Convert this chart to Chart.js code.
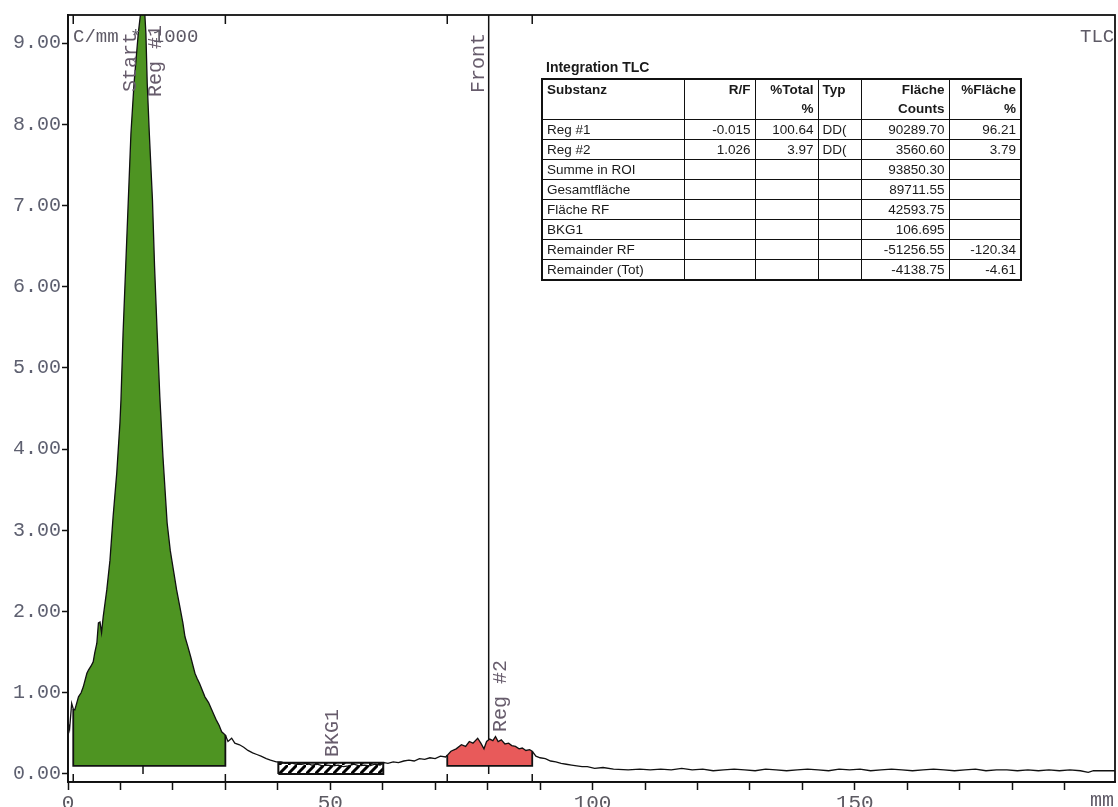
<!DOCTYPE html>
<html>
<head>
<meta charset="utf-8">
<script src="https://cdn.jsdelivr.net/npm/chart.js@4.4.0/dist/chart.umd.min.js"></script>
<style>
  body { margin: 0; background: #fff; }
  #wrap { position: relative; width: 1118px; height: 807px; overflow: hidden; }
  #title { position: absolute; left: 546px; top: 59px; font: bold 14px 'Liberation Sans', Arial, sans-serif; line-height: 16px; color: #1a1a1a; }
  #tbl { position: absolute; left: 541px; top: 78px; width: 479px; border-collapse: collapse; table-layout: fixed;
         font: 13.5px 'Liberation Sans', Arial, sans-serif; color: #1a1a1a; border: 2px solid #111; background: #fff; }
  #tbl td { border: 1px solid #111; padding: 0 4px; height: 19px; line-height: 19px; white-space: nowrap; overflow: hidden; vertical-align: middle; }
  #tbl tr.head td { height: 39px; vertical-align: top; font-weight: bold; }
  #tbl td.r { text-align: right; }
</style>
</head>
<body>
<div id="wrap">
  <canvas id="tlc" width="1118" height="807"></canvas>
  <div id="title">Integration TLC</div>
  <table id="tbl"></table>
</div>
<script>
// scan position (mm) and activity (C/mm * 1000)
var mm = [0.0, 0.3, 0.7, 1.0, 1.3, 2.0, 2.5, 2.9, 3.6, 3.9, 4.4, 4.8, 5.1, 5.5, 5.8, 6.1, 6.4, 6.7, 7.4, 8.0,
  8.6, 9.3, 9.9, 10.1, 10.5, 11.0, 11.5, 12.0, 12.6, 13.4, 13.9, 14.3, 14.85, 15.1, 15.5, 16.1, 16.5, 17.0, 17.5, 18.1,
  18.9, 19.5, 20.1, 20.7, 21.2, 21.9, 22.3, 22.8, 23.4, 24.2, 24.6, 25.1, 26.1, 26.8, 27.4, 28.3, 28.8, 29.3, 30.0, 30.5,
  31.2, 31.8, 32.7, 33.5, 34.3, 35.2, 36.0, 36.8, 37.8, 38.6, 39.7, 40.6, 41.5, 42.5, 43.5, 44.5, 45.5, 46.5, 47.5, 48.5,
  49.5, 50.5, 51.5, 52.5, 53.5, 54.5, 55.5, 56.5, 57.5, 58.5, 59.5, 60.3, 61.0, 62.0, 63.0, 64.0, 65.0, 66.0, 67.0, 68.0,
  69.0, 70.0, 71.0, 72.0, 72.3, 73.0, 74.0, 75.0, 75.8, 76.5, 77.2, 78.1, 78.7, 79.3, 79.8, 80.4, 81.0, 81.5, 82.0, 82.6,
  83.3, 84.0, 84.6, 85.3, 86.0, 86.6, 87.3, 88.0, 88.5, 89.2, 90.0, 91.0, 92.0, 93.0, 94.0, 95.0, 96.0, 97.0, 98.0, 99.0,
  100.4, 102, 104, 106.8, 109, 111, 113, 115, 117, 119, 121, 123, 125, 127, 129, 131, 133, 135, 137, 139,
  141, 143, 145, 147, 149, 151, 153, 155, 157, 159, 161, 163, 165, 167, 169, 171, 173, 175, 177, 179,
  181, 183, 185, 187, 189, 191, 193, 194.5, 195.5, 197, 199.6];
var counts = [0.64, 0.55, 0.87, 0.80, 0.79, 0.95, 1.00, 1.07, 1.24, 1.28, 1.33, 1.38, 1.49, 1.61, 1.86, 1.87, 1.74, 1.93, 2.27, 2.63,
  3.17, 3.71, 4.32, 4.61, 5.43, 6.25, 7.07, 7.89, 8.51, 9.12, 9.40, 9.75, 9.12, 8.51, 7.89, 7.07, 6.25, 5.43, 4.65, 3.91,
  3.09, 2.75, 2.51, 2.27, 2.10, 1.86, 1.69, 1.58, 1.44, 1.24, 1.18, 1.11, 0.95, 0.88, 0.79, 0.66, 0.60, 0.52, 0.48, 0.40,
  0.44, 0.38, 0.36, 0.33, 0.29, 0.26, 0.24, 0.22, 0.19, 0.17, 0.15, 0.15, 0.13, 0.14, 0.12, 0.12, 0.13, 0.11, 0.12, 0.10,
  0.11, 0.10, 0.11, 0.09, 0.10, 0.12, 0.10, 0.11, 0.10, 0.12, 0.11, 0.14, 0.13, 0.15, 0.14, 0.16, 0.17, 0.16, 0.19, 0.18,
  0.20, 0.19, 0.22, 0.21, 0.23, 0.28, 0.31, 0.36, 0.34, 0.40, 0.38, 0.44, 0.38, 0.31, 0.40, 0.43, 0.41, 0.46, 0.40, 0.42,
  0.37, 0.38, 0.35, 0.34, 0.31, 0.32, 0.29, 0.30, 0.28, 0.22, 0.20, 0.19, 0.16, 0.15, 0.13, 0.12, 0.11, 0.10, 0.09, 0.09,
  0.07, 0.08, 0.06, 0.05, 0.06, 0.05, 0.06, 0.05, 0.07, 0.05, 0.06, 0.04, 0.05, 0.06, 0.05, 0.04, 0.06, 0.05, 0.04, 0.05,
  0.06, 0.05, 0.04, 0.06, 0.05, 0.06, 0.04, 0.05, 0.06, 0.05, 0.04, 0.05, 0.06, 0.05, 0.04, 0.05, 0.06, 0.04, 0.05, 0.05,
  0.04, 0.05, 0.04, 0.05, 0.04, 0.05, 0.04, 0.02, 0.04, 0.04, 0.04];

var yTicks = [0, 1, 2, 3, 4, 5, 6, 7, 8, 9];
var xTicks = [0, 10, 20, 30, 40, 50, 60, 70, 80, 90, 100, 110, 120, 130, 140, 150, 160, 170, 180, 190];
var xLabels = [0, 50, 100, 150];

var regions = [[1.0, 30.0], [72.3, 88.5]];   // Reg #1, Reg #2
var baseline = 0.1;
var bkgRange = [40.1, 60.1];
var bkgLevel = 0.14;
var startAt = 14.3;
var frontAt = 80.2;
var labelTexts = ['Start', 'Reg #1', 'Front', 'Reg #2', 'BKG1'];
var labelAt = [startAt, startAt, frontAt, frontAt, 50.1];

var tableHead = [['Substanz', ''], ['R/F', ''], ['%Total', '%'], ['Typ', ''], ['Fläche', 'Counts'], ['%Fläche', '%']];
var tableRows = [
  ['Reg #1', '-0.015', '100.64', 'DD(', '90289.70', '96.21'],
  ['Reg #2', '1.026', '3.97', 'DD(', '3560.60', '3.79'],
  ['Summe in ROI', '', '', '', '93850.30', ''],
  ['Gesamtfläche', '', '', '', '89711.55', ''],
  ['Fläche RF', '', '', '', '42593.75', ''],
  ['BKG1', '', '', '', '106.695', ''],
  ['Remainder RF', '', '', '', '-51256.55', '-120.34'],
  ['Remainder (Tot)', '', '', '', '-4138.75', '-4.61']
];

// table
var colW = [142, 71, 63, 43, 88, 72];
var rightCol = [false, true, true, false, true, true];
var tbl = document.getElementById('tbl');
var html = '<colgroup>' + colW.map(function (w) { return '<col style="width:' + w + 'px">'; }).join('') + '</colgroup>';
html += '<tr class="head">' + tableHead.map(function (h, i) {
  return '<td class="' + (rightCol[i] ? 'r' : '') + '">' + h[0] + '<br>' + h[1] + '</td>';
}).join('') + '</tr>';
tableRows.forEach(function (row) {
  html += '<tr>' + row.map(function (c, i) { return '<td class="' + (rightCol[i] ? 'r' : '') + '">' + c + '</td>'; }).join('') + '</tr>';
});
tbl.innerHTML = html;

var trace = mm.map(function (x, i) { return { x: x, y: counts[i] }; });
function yAt(x) {
  for (var i = 0; i < trace.length; i++) if (trace[i].x === x) return trace[i].y;
  return baseline;
}
var regionColors = ['#4e9422', '#e85a5a'];

// hatch pattern for the background box
var pc = document.createElement('canvas');
pc.width = 9; pc.height = 9;
var pctx = pc.getContext('2d');
pctx.fillStyle = '#fff'; pctx.fillRect(0, 0, 9, 9);
pctx.strokeStyle = '#000'; pctx.lineWidth = 3;
pctx.beginPath(); pctx.moveTo(-1, 10); pctx.lineTo(10, -1); pctx.stroke();
var hatch = pctx.createPattern(pc, 'repeat');

var datasets = [{
  data: trace, borderColor: '#111', borderWidth: 1.3, pointRadius: 0, fill: false, order: 0
}];
regions.forEach(function (r, i) {
  datasets.push({
    data: trace.filter(function (p) { return p.x >= r[0] && p.x <= r[1]; }),
    borderWidth: 0, borderColor: 'rgba(0,0,0,0)', backgroundColor: regionColors[i],
    pointRadius: 0, fill: { value: baseline }, order: 3
  });
  datasets.push({
    data: [{ x: r[0], y: yAt(r[0]) }, { x: r[0], y: baseline }, { x: r[1], y: baseline }, { x: r[1], y: yAt(r[1]) }],
    borderColor: '#111', borderWidth: 1.8, pointRadius: 0, fill: false, order: 1
  });
});
datasets.push({
  data: [{ x: bkgRange[0], y: bkgLevel }, { x: bkgRange[1], y: bkgLevel }],
  borderWidth: 0, borderColor: 'rgba(0,0,0,0)', backgroundColor: hatch, pointRadius: 0, fill: { value: 0 }, order: 3
});
datasets.push({
  data: [{ x: bkgRange[0], y: 0 }, { x: bkgRange[0], y: bkgLevel }, { x: bkgRange[1], y: bkgLevel },
         { x: bkgRange[1], y: 0 }, { x: bkgRange[0], y: 0 }],
  borderColor: '#111', borderWidth: 2, pointRadius: 0, fill: false, order: 1
});

var labelDx = [-7, 18, -5, 17, 7];
var labelY = [92, 97, 93, 732, 757];

var decor = {
  id: 'decor',
  beforeDatasetsDraw: function (chart) {
    var ctx = chart.ctx, a = chart.chartArea, x = chart.scales.x, y = chart.scales.y;
    ctx.save();
    ctx.strokeStyle = '#111'; ctx.lineWidth = 1.5;
    [startAt, frontAt].forEach(function (m) {
      var px = x.getPixelForValue(m);
      ctx.beginPath(); ctx.moveTo(px, a.top); ctx.lineTo(px, y.getPixelForValue(0)); ctx.stroke();
    });
    ctx.restore();
  },
  afterDraw: function (chart) {
    var ctx = chart.ctx, a = chart.chartArea, x = chart.scales.x, y = chart.scales.y;
    ctx.save();
    ctx.strokeStyle = '#111'; ctx.lineWidth = 1.8;
    ctx.strokeRect(a.left, a.top, a.right - a.left, a.bottom - a.top);
    ctx.lineWidth = 1.5;
    var y0 = y.getPixelForValue(0);
    regions.forEach(function (r) {
      r.forEach(function (v) {
        var px = x.getPixelForValue(v);
        ctx.beginPath(); ctx.moveTo(px, a.top); ctx.lineTo(px, a.top + 9); ctx.stroke();
        ctx.beginPath(); ctx.moveTo(px, a.bottom); ctx.lineTo(px, y0); ctx.stroke();
      });
    });
    ctx.fillStyle = '#675c6c';
    ctx.font = '20px "Liberation Mono", "DejaVu Sans Mono", monospace';
    labelTexts.forEach(function (t, i) {
      ctx.save();
      ctx.translate(x.getPixelForValue(labelAt[i]) + labelDx[i], labelY[i]);
      ctx.rotate(-Math.PI / 2);
      ctx.textAlign = 'left'; ctx.textBaseline = 'alphabetic';
      ctx.fillText(t, 0, 0);
      ctx.restore();
    });
    ctx.fillStyle = '#5e5a66';
    ctx.font = '19px "Liberation Mono", "DejaVu Sans Mono", monospace';
    ctx.fillText('C/mm * 1000', a.left + 5, 42);
    ctx.fillText('TLC', 1080, 42);
    ctx.font = '20px "Liberation Mono", "DejaVu Sans Mono", monospace';
    ctx.fillText('mm', 1090, 806);
    ctx.restore();
  }
};

new Chart(document.getElementById('tlc'), {
  type: 'line',
  data: { datasets: datasets },
  plugins: [decor],
  options: {
    responsive: false,
    animation: false,
    layout: { padding: { top: 15, right: 3, left: 0, bottom: 0 } },
    plugins: { legend: { display: false }, tooltip: { enabled: false } },
    elements: { line: { tension: 0 } },
    scales: {
      x: {
        type: 'linear', min: 0, max: 199.6,
        afterFit: function (s) { s.height = 25; },
        afterBuildTicks: function (s) { s.ticks = xTicks.map(function (v) { return { value: v }; }); },
        grid: { drawOnChartArea: false, drawTicks: true, tickLength: 8, tickWidth: 1.5, tickColor: '#111' },
        border: { display: true, color: '#111', width: 1.8 },
        ticks: {
          autoSkip: false, maxRotation: 0, padding: 1, color: '#5c5a62',
          font: { family: '"Liberation Mono", "DejaVu Sans Mono", monospace', size: 21 },
          callback: function (v) { return xLabels.indexOf(v) >= 0 ? String(v) : ''; }
        }
      },
      y: {
        type: 'linear', min: -0.0985, max: 9.345,
        afterFit: function (s) { s.width = 68; },
        afterBuildTicks: function (s) { s.ticks = yTicks.map(function (v) { return { value: v }; }); },
        grid: { drawOnChartArea: false, drawTicks: true, tickLength: 6, tickWidth: 1.5, tickColor: '#111' },
        border: { display: true, color: '#111', width: 1.8 },
        ticks: {
          padding: 1, color: '#5e6070',
          font: { family: '"Liberation Mono", "DejaVu Sans Mono", monospace', size: 20 },
          callback: function (v) { return Number(v).toFixed(2); }
        }
      }
    }
  }
});
</script>
</body>
</html>
